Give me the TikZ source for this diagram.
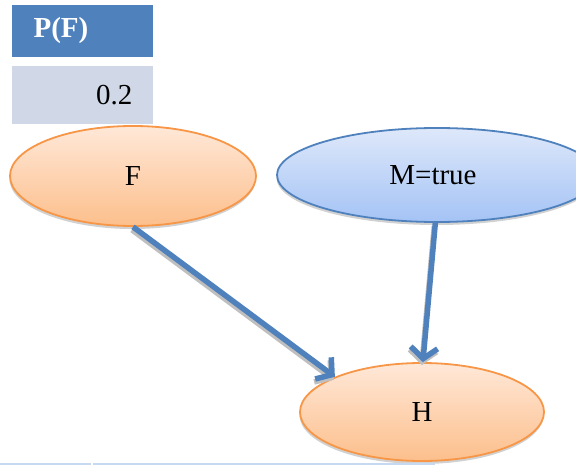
\documentclass[tikz,border=0pt]{standalone}
\usepackage{fontspec}
\setmainfont{Liberation Serif}
\usetikzlibrary{shapes.geometric,shadows,arrows.meta}
\definecolor{accentblue}{RGB}{79,129,189}
\definecolor{rowblue}{RGB}{208,216,232}
\definecolor{orangeline}{RGB}{247,150,70}
\definecolor{orangetop}{RGB}{255,232,216}
\definecolor{orangebot}{RGB}{252,191,140}
\definecolor{bluetop}{RGB}{222,232,250}
\definecolor{bluebot}{RGB}{164,195,245}
\definecolor{edgeline}{RGB}{198,217,241}
\tikzset{
  label font/.style={font=\fontsize{29}{34}\selectfont},
  varnode/.style={ellipse, draw, line width=1.8pt, inner sep=0pt, label font,
    drop shadow={shadow xshift=-0.5pt, shadow yshift=-3pt, fill=black!30, opacity=0.6}},
  orangenode/.style={varnode, draw=orangeline, top color=orangetop, bottom color=orangebot},
  bluenode/.style={varnode, draw=accentblue, top color=bluetop, bottom color=bluebot},
  link/.style={draw=accentblue, line width=5.5pt,
    -{Straight Barb[length=11pt,width=27pt,line width=5.5pt]}},
  linkshadow/.style={link, draw=black!25},
}
\begin{document}
\begin{tikzpicture}[x=1pt,y=-1pt]
\useasboundingbox (0,0) rectangle (576,465);

% prior table for F
\fill[accentblue] (12,5) rectangle (153,57);
\fill[rowblue] (12,66) rectangle (153,124);
\node[label font, text=white, anchor=west] (hdr) at (30,31) {\textbf{P(F)}};
\node[label font, anchor=east] (val) at (136,95) {0.2};

% variables
\node[orangenode, minimum width=246pt, minimum height=100pt] (F) at (133,176) {F};
\node[bluenode, minimum width=320pt, minimum height=94pt] (M) at (437,175) {\hspace*{-8pt}M=true};
\node[orangenode, minimum width=244pt, minimum height=98pt] (H) at (422,412) {H};

% dependencies (soft shadow first)
\draw[linkshadow] ([shift={(-1pt,-3pt)}]F.south) -- ([shift={(-1pt,-3pt)}]H.158);
\draw[linkshadow] ([shift={(-1pt,-3pt)}]M.-92) -- ([shift={(-1pt,-3pt)}]H.89);
\draw[link] (F.south) -- (H.158);
\draw[link] (M.-92) -- (H.89);

% edge of the table below
\fill[edgeline] (0,462.5) rectangle (91,465);
\fill[edgeline] (93,462.5) rectangle (435,465);
\end{tikzpicture}
\end{document}
